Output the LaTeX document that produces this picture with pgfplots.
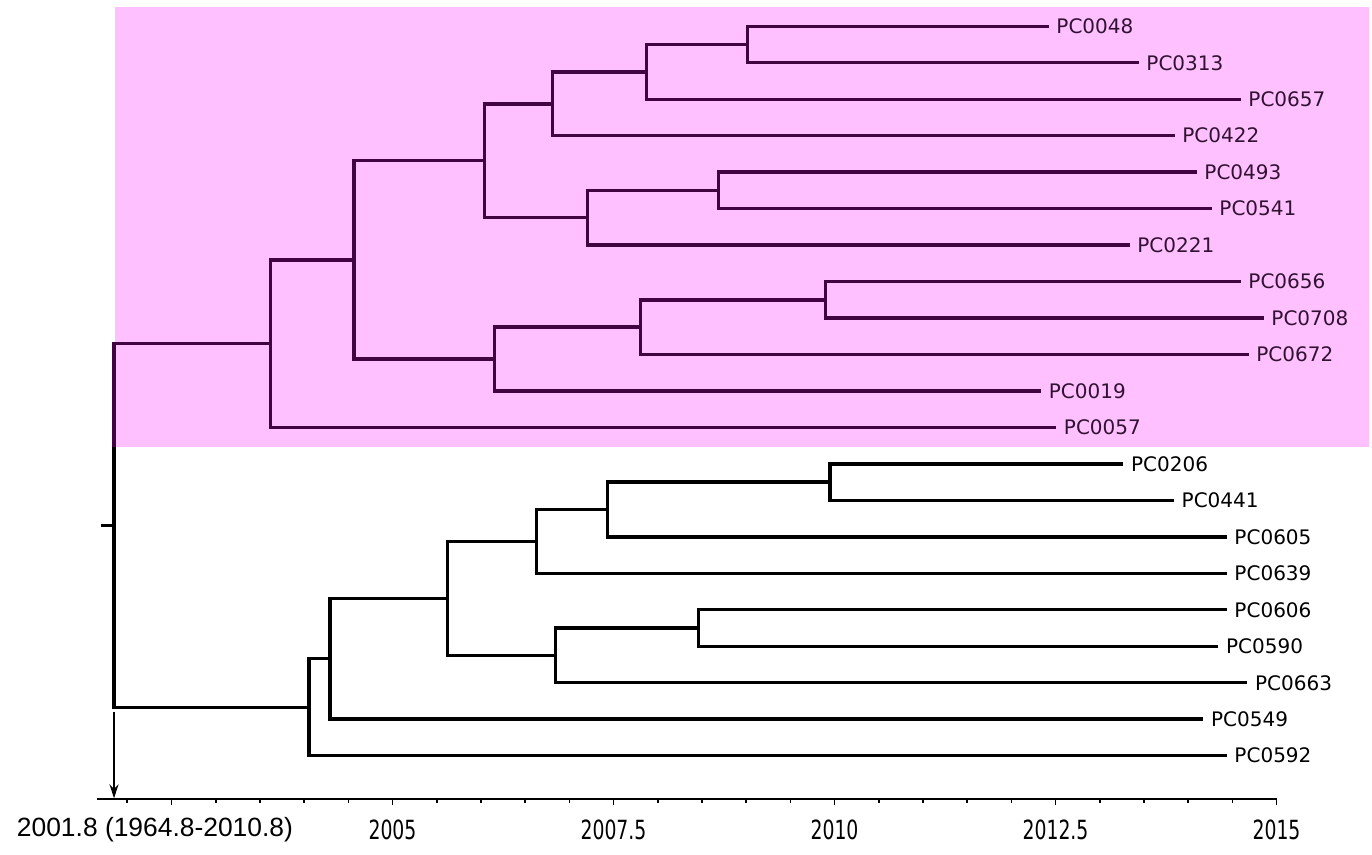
\documentclass[border=0pt]{standalone}
\usepackage{fontspec}
\setmainfont{DejaVu Sans}
\newfontfamily\arialfont{Liberation Sans}
\newfontfamily\condfont{DejaVu Sans Condensed}
\usepackage{pgfplots}
\pgfplotsset{compat=1.18}
\usetikzlibrary{arrows.meta}
\definecolor{pinkbg}{RGB}{255,192,255}
\definecolor{darkpurple}{RGB}{64,4,64}
\definecolor{labpurple}{RGB}{50,18,50}
\newcommand{\tl}[1]{\scalebox{0.95}[1.2]{#1}}
\begin{document}
\begin{tikzpicture}
\begin{axis}[
  width=589.5pt, height=399.5pt, scale only axis,
  xmin=2001.657, xmax=2015, ymin=-1.199, ymax=20.7215,
  axis x line*=bottom, axis y line=none, ytick=\empty,
  clip=false,
  xtick={2002.5,2005,2007.5,2010,2012.5,2015},
  xticklabels={,\tl{2005},\tl{2007.5},\tl{2010},\tl{2012.5},\tl{2015}},
  minor xtick={2002,2003,2003.5,2004,2004.5,2005.5,2006,2006.5,2007,2008,2008.5,2009,2009.5,2010.5,2011,2011.5,2012,2013,2013.5,2014,2014.5},
  tick align=outside,
  major tick length=3pt, minor tick length=1.8pt,
  x axis line style={line width=1pt, -},
  every outer x axis line/.append style={-},
  every tick/.style={black, line width=0.8pt},
  xticklabel style={font=\condfont\fontsize{11}{13}\selectfont, yshift=-3.5pt},
  tree/.style={line width=1.7pt, line join=miter, line cap=rect},
]
% highlighted clade background
\fill[pinkbg] (axis cs:2001.861,20.5295) rectangle (axis cs:2016.046,8.466);
\path (axis cs:2000.560,-2.708) rectangle (axis cs:2016.080,20.7215);

% upper clade (highlighted)
\addplot[tree, darkpurple] coordinates {(2012.404,20) (2009.016,20) (2009.016,19) (2013.422,19)};
\addplot[tree, darkpurple] coordinates {(2009.016,19.5) (2007.876,19.5) (2007.876,18) (2014.576,18)};
\addplot[tree, darkpurple] coordinates {(2007.876,18.75) (2006.812,18.75) (2006.812,17) (2013.829,17)};
\addplot[tree, darkpurple] coordinates {(2014.078,16) (2008.686,16) (2008.686,15) (2014.248,15)};
\addplot[tree, darkpurple] coordinates {(2008.686,15.5) (2007.208,15.5) (2007.208,14) (2013.320,14)};
\addplot[tree, darkpurple] coordinates {(2006.812,17.875) (2006.038,17.875) (2006.038,14.75) (2007.208,14.75)};
\addplot[tree, darkpurple] coordinates {(2014.576,13) (2009.900,13) (2009.900,12) (2014.836,12)};
\addplot[tree, darkpurple] coordinates {(2009.900,12.5) (2007.808,12.5) (2007.808,11) (2014.666,11)};
\addplot[tree, darkpurple] coordinates {(2007.808,11.75) (2006.152,11.75) (2006.152,10) (2012.319,10)};
\addplot[tree, darkpurple] coordinates {(2006.038,16.3125) (2004.564,16.3125) (2004.564,10.875) (2006.152,10.875)};
\addplot[tree, darkpurple] coordinates {(2004.564,13.59375) (2003.622,13.59375) (2003.622,9) (2012.489,9)};

% root
\addplot[tree, black] coordinates {(2003.622,11.296875) (2001.850,11.296875) (2001.850,1.328125) (2004.055,1.328125)};
\addplot[tree, darkpurple] coordinates {(2003.622,11.296875) (2001.850,11.296875) (2001.850,8.5)};
\addplot[tree, black] coordinates {(2001.726,6.3125) (2001.850,6.3125)};

% lower clade
\addplot[tree, black] coordinates {(2013.249,8) (2009.949,8) (2009.949,7) (2013.821,7)};
\addplot[tree, black] coordinates {(2009.949,7.5) (2007.430,7.5) (2007.430,6) (2014.418,6)};
\addplot[tree, black] coordinates {(2007.430,6.75) (2006.631,6.75) (2006.631,5) (2014.418,5)};
\addplot[tree, black] coordinates {(2014.418,4) (2008.459,4) (2008.459,3) (2014.324,3)};
\addplot[tree, black] coordinates {(2008.459,3.5) (2006.844,3.5) (2006.844,2) (2014.652,2)};
\addplot[tree, black] coordinates {(2006.631,5.875) (2005.624,5.875) (2005.624,2.75) (2006.844,2.75)};
\addplot[tree, black] coordinates {(2005.624,4.3125) (2004.293,4.3125) (2004.293,1) (2014.154,1)};
\addplot[tree, black] coordinates {(2004.293,2.65625) (2004.055,2.65625) (2004.055,0) (2014.418,0)};

% tip labels
\addplot[draw=none, mark=none, nodes near coords, point meta=explicit symbolic,
  nodes near coords align={anchor=west},
  every node near coord/.append style={anchor=west, xshift=4.5pt, inner sep=0pt, text=labpurple, font=\fontsize{10}{12}\selectfont}]
  table[meta=label, row sep=\\] {
x y label\\
2012.404 20 PC0048\\
2013.422 19 PC0313\\
2014.576 18 PC0657\\
2013.829 17 PC0422\\
2014.078 16 PC0493\\
2014.248 15 PC0541\\
2013.320 14 PC0221\\
2014.576 13 PC0656\\
2014.836 12 PC0708\\
2014.666 11 PC0672\\
2012.319 10 PC0019\\
2012.489 9 PC0057\\
};
\addplot[draw=none, mark=none, nodes near coords, point meta=explicit symbolic,
  nodes near coords align={anchor=west},
  every node near coord/.append style={anchor=west, xshift=4.5pt, inner sep=0pt, text=black, font=\fontsize{10}{12}\selectfont}]
  table[meta=label, row sep=\\] {
x y label\\
2013.249 8 PC0206\\
2013.821 7 PC0441\\
2014.418 6 PC0605\\
2014.418 5 PC0639\\
2014.418 4 PC0606\\
2014.324 3 PC0590\\
2014.652 2 PC0663\\
2014.154 1 PC0549\\
2014.418 0 PC0592\\
};

% root age arrow and label
\draw[line width=0.7pt, -{Stealth[length=7pt,width=4.5pt]}] (axis cs:2001.850,1.19) -- (axis cs:2001.850,-1.17);
\node[font=\arialfont\fontsize{13.2}{16}\selectfont] at (axis cs:2002.313,-2.03) {2001.8 (1964.8-2010.8)};
\end{axis}
\end{tikzpicture}
\end{document}
